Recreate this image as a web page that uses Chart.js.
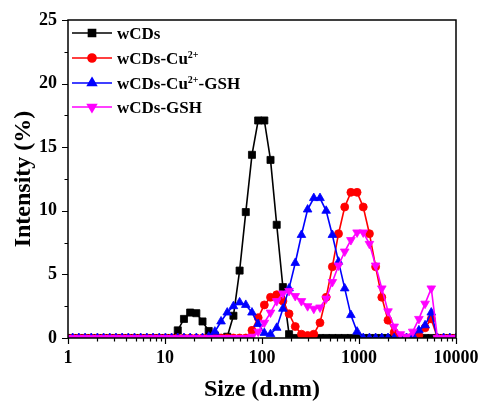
<!DOCTYPE html>
<html>
<head>
<meta charset="utf-8">
<script src="https://cdn.jsdelivr.net/npm/chart.js@4.4.0/dist/chart.umd.min.js"></script>
<style>
  html, body { margin: 0; padding: 0; background: #fff; }
</style>
</head>
<body>
<canvas id="grafico" width="479" height="405"></canvas>
<script>
// === Dados (tamanho em d.nm, intensidade em %) ===
const tamanhos = [
  0.4, 0.4632, 0.5365, 0.6213, 0.7195, 0.8332, 0.9649, 1.117, 1.294, 1.499,
  1.736, 2.01, 2.328, 2.696, 3.122, 3.615, 4.187, 4.849, 5.615, 6.503,
  7.531, 8.721, 10.1, 11.7, 13.54, 15.69, 18.17, 21.04, 24.36, 28.21,
  32.67, 37.84, 43.82, 50.75, 58.77, 68.06, 78.82, 91.28, 105.7, 122.4,
  141.8, 164.2, 190.1, 220.2, 255, 295.3, 342, 396.1, 458.7, 531.2,
  615.1, 712.4, 825, 955.4, 1106, 1281, 1484, 1718, 1990, 2305,
  2669, 3091, 3580, 4145, 4801, 5560, 6439, 7456, 8635, 10000
];

const wCDs = [
  0, 0, 0, 0, 0, 0, 0, 0, 0, 0,
  0, 0, 0, 0, 0, 0, 0, 0, 0, 0,
  0, 0, 0, 0, 0.6, 1.5, 2.0, 1.95, 1.3, 0.55,
  0.2, 0, 0.1, 1.75, 5.3, 9.9, 14.4, 17.1, 17.1, 14.0,
  8.9, 4.0, 0.3, 0, 0, 0, 0, 0, 0, 0,
  0, 0, 0, 0, 0, 0, 0, 0, 0, 0,
  0, 0, 0, 0, 0, 0, 0, 0, 0, 0
];

const wCDsCu = [
  0, 0, 0, 0, 0, 0, 0, 0, 0, 0,
  0, 0, 0, 0, 0, 0, 0, 0, 0, 0,
  0, 0, 0, 0, 0, 0, 0, 0, 0, 0,
  0, 0, 0, 0, 0, 0, 0.6, 1.6, 2.6, 3.2,
  3.4, 2.9, 1.9, 0.9, 0.3, 0.2, 0.3, 1.2, 3.2, 5.6,
  8.2, 10.3, 11.45, 11.45, 10.3, 8.2, 5.6, 3.2, 1.4, 0.45,
  0, 0, 0, 0.2, 0.8, 1.5, 0, 0, 0, 0
];

const wCDsCuGSH = [
  0, 0, 0, 0, 0, 0, 0, 0, 0, 0,
  0, 0, 0, 0, 0, 0, 0, 0, 0, 0,
  0, 0, 0, 0, 0, 0, 0, 0, 0, 0.1,
  0.5, 1.3, 2.0, 2.5, 2.8, 2.6, 2.0, 1.1, 0.4, 0.3,
  0.8, 2.3, 3.9, 5.9, 8.1, 10.1, 11.0, 11.0, 10.0, 8.1,
  6.0, 3.9, 1.8, 0.5, 0, 0, 0, 0, 0, 0,
  0, 0, 0.2, 0.6, 1.0, 2.0, 0, 0, 0, 0
];

const wCDsGSH = [
  0, 0, 0, 0, 0, 0, 0, 0, 0, 0,
  0, 0, 0, 0, 0, 0, 0, 0, 0, 0,
  0, 0, 0, 0, 0, 0, 0, 0, 0, 0,
  0, 0, 0, 0, 0, 0, 0.1, 0.5, 1.2, 2.0,
  2.9, 3.5, 3.7, 3.3, 2.9, 2.5, 2.3, 2.4, 3.1, 4.4,
  5.7, 6.8, 7.7, 8.3, 8.3, 7.4, 5.7, 3.9, 2.1, 0.9,
  0.3, 0.1, 0.5, 1.5, 2.7, 3.9, 0, 0, 0, 0
];

const xTicks = [1, 10, 100, 1000, 10000];
const yTicks = [0, 5, 10, 15, 20, 25];

const legendas = ['wCDs', 'wCDs-Cu^{2+}', 'wCDs-Cu^{2+}-GSH', 'wCDs-GSH'];

const FONTE = '"Liberation Serif", "Times New Roman", serif';

function pontos(valores) {
  return tamanhos.map((t, i) => ({ x: t, y: valores[i] }));
}

function serie(rotulo, valores, cor, estilo, raio, rotacao, ordem) {
  return {
    label: rotulo.replace(/\^\{([^}]*)\}/g, (m, s) => s === '2+' ? '\u00b2\u207a' : s),
    rotuloRico: rotulo,
    data: pontos(valores),
    borderColor: cor,
    backgroundColor: cor,
    borderWidth: 1.6,
    pointStyle: estilo,
    pointRadius: raio,
    pointRotation: rotacao,
    pointBorderWidth: 0.8,
    pointBorderColor: cor,
    pointBackgroundColor: cor,
    tension: 0,
    clip: 0,
    order: ordem
  };
}

// texto com sobrescrito ^{...}
function textoRico(ctx, texto, x, y, tam) {
  const partes = texto.split(/\^\{([^}]*)\}/);
  let cx = x;
  ctx.textBaseline = 'alphabetic';
  ctx.textAlign = 'left';
  partes.forEach((p, i) => {
    if (!p) return;
    if (i % 2 === 0) {
      ctx.font = `bold ${tam}px ${FONTE}`;
      ctx.fillText(p, cx, y);
    } else {
      ctx.font = `bold ${Math.round(tam * 0.6)}px ${FONTE}`;
      ctx.fillText(p, cx, y - tam * 0.38);
    }
    cx += ctx.measureText(p).width;
  });
}

// moldura, marcas menores e legenda
const molduraPlugin = {
  id: 'moldura',
  afterDraw(chart) {
    const { ctx, chartArea: a, scales: { x, y } } = chart;
    ctx.save();
    ctx.strokeStyle = '#000';
    ctx.lineWidth = 1.5;
    ctx.strokeRect(a.left, a.top, a.right - a.left, a.bottom - a.top);

    ctx.lineWidth = 1.2;
    ctx.beginPath();
    for (let v = 0; v <= 25; v += 2.5) {
      const py = Math.round(y.getPixelForValue(v)) + 0.5;
      const len = v % 5 === 0 ? 6 : 3.5;
      ctx.moveTo(a.left - len, py);
      ctx.lineTo(a.left, py);
    }
    for (let d = 1; d < 10000; d *= 10) {
      for (let m = 1; m <= 9; m++) {
        const px = Math.round(x.getPixelForValue(m * d)) + 0.5;
        const len = m === 1 ? 6 : 3.5;
        ctx.moveTo(px, a.bottom);
        ctx.lineTo(px, a.bottom + len);
      }
    }
    const pxFim = Math.round(x.getPixelForValue(10000)) + 0.5;
    ctx.moveTo(pxFim, a.bottom);
    ctx.lineTo(pxFim, a.bottom + 6);
    ctx.stroke();

    // legenda
    const linhas = [33, 58, 83, 107];
    chart.data.datasets.forEach((ds, i) => {
      const ly = linhas[i];
      ctx.strokeStyle = ds.borderColor;
      ctx.fillStyle = ds.borderColor;
      ctx.lineWidth = 1.6;
      ctx.beginPath();
      ctx.moveTo(72, ly);
      ctx.lineTo(112, ly);
      ctx.stroke();
      Chart.helpers.drawPoint(ctx, {
        pointStyle: ds.pointStyle,
        rotation: ds.pointRotation,
        radius: ds.pointRadius,
        borderWidth: 0.8
      }, 92, ly);
      ctx.fillStyle = '#000';
      textoRico(ctx, ds.rotuloRico, 117, ly + 6, 17);
    });
    ctx.restore();
  }
};

const ctx = document.getElementById('grafico').getContext('2d');

new Chart(ctx, {
  type: 'line',
  data: {
    datasets: [
      serie(legendas[0], wCDs, '#000000', 'rect', 5, 0, 4),
      serie(legendas[1], wCDsCu, '#ff0000', 'circle', 4, 0, 3),
      serie(legendas[2], wCDsCuGSH, '#0000ff', 'triangle', 5, 0, 2),
      serie(legendas[3], wCDsGSH, '#ff00ff', 'triangle', 5, 180, 1)
    ]
  },
  options: {
    responsive: false,
    animation: false,
    devicePixelRatio: 1,
    layout: { padding: { top: 20, right: 23, left: 0, bottom: 0 } },
    plugins: {
      legend: { display: false },
      tooltip: { enabled: false }
    },
    scales: {
      x: {
        type: 'logarithmic',
        min: 1,
        max: 10000,
        afterBuildTicks: s => { s.ticks = xTicks.map(v => ({ value: v })); },
        afterFit: s => { s.height = 67; s.paddingLeft = 0; s.paddingRight = 0; },
        grid: { display: false, drawTicks: false },
        border: { display: false },
        ticks: {
          autoSkip: false,
          maxRotation: 0,
          padding: 10,
          color: '#000',
          font: { family: FONTE, size: 18, weight: 'bold' },
          callback: v => String(v)
        },
        title: {
          display: true,
          text: 'Size (d.nm)',
          color: '#000',
          font: { family: FONTE, size: 24, weight: 'bold' },
          padding: { top: 0, bottom: 1 }
        }
      },
      y: {
        min: 0,
        max: 25,
        afterBuildTicks: s => { s.ticks = yTicks.map(v => ({ value: v })); },
        afterFit: s => { s.width = 68; s.paddingTop = 0; s.paddingBottom = 0; },
        grid: { display: false, drawTicks: false },
        border: { display: false },
        ticks: {
          padding: 11,
          color: '#000',
          font: { family: FONTE, size: 18, weight: 'bold' }
        },
        title: {
          display: true,
          text: 'Intensity (%)',
          color: '#000',
          font: { family: FONTE, size: 24, weight: 'bold' },
          padding: { top: 9, bottom: 0 }
        }
      }
    }
  },
  plugins: [molduraPlugin]
});
</script>
</body>
</html>
